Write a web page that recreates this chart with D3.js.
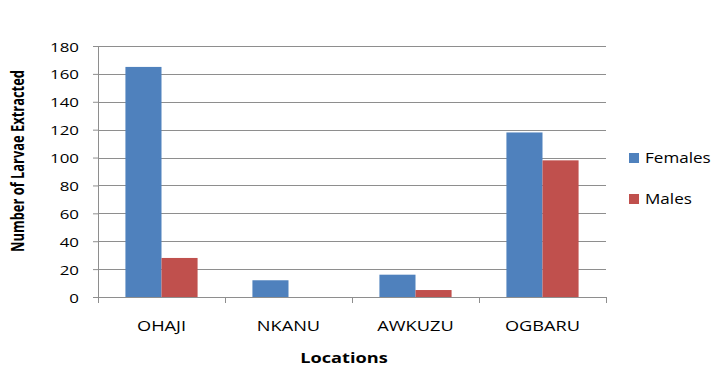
<!DOCTYPE html>
<html>
<head>
<meta charset="utf-8">
<script src="https://cdn.jsdelivr.net/npm/d3@7"></script>
<style>
  body { margin: 0; background: #fff; }
  text { fill: #000; }
</style>
</head>
<body>
<div id="chart"></div>
<script>
// chart data
const locations = ["OHAJI", "NKANU", "AWKUZU", "OGBARU"];
const seriesNames = ["Females", "Males"];
const females = [165, 12, 16, 118];
const males = [28, 0, 5, 98];
const yTicks = [0, 20, 40, 60, 80, 100, 120, 140, 160, 180];

const colors = { Females: "#4F81BD", Males: "#C0504D" };
const gridColor = "#8e8e8e";
const sx = 1.3; // text in the picture is stretched sideways

const W = 725, H = 371;
const margin = { top: 46, right: 119, bottom: 74, left: 98 };
const width = W - margin.left - margin.right;
const height = H - margin.top - margin.bottom;

const rows = locations.map((loc, i) => ({ loc: loc, Females: females[i], Males: males[i] }));

const svg = d3.select("#chart").append("svg")
    .attr("width", W)
    .attr("height", H);

const g = svg.append("g")
    .attr("transform", "translate(" + margin.left + "," + margin.top + ")");

// scales
const x0 = d3.scaleBand().domain(locations).range([0, width]).padding(0);
const x1 = d3.scaleBand().domain(seriesNames).range([0, x0.bandwidth()])
    .paddingInner(0).paddingOuter(0.76);
const y = d3.scaleLinear().domain([0, 180]).range([height, 0]);

// gridlines
g.append("g").selectAll("line")
    .data(yTicks.filter(d => d > 0))
    .join("line")
    .attr("x1", 0).attr("x2", width)
    .attr("y1", d => Math.round(y(d)) + 0.5)
    .attr("y2", d => Math.round(y(d)) + 0.5)
    .attr("stroke", gridColor)
    .attr("stroke-width", 1);

// bars
g.append("g").selectAll("g")
    .data(rows)
    .join("g")
    .attr("transform", d => "translate(" + x0(d.loc) + ",0)")
    .selectAll("rect")
    .data(d => seriesNames.map(s => ({ key: s, value: d[s] })))
    .join("rect")
    .attr("x", d => x1(d.key))
    .attr("y", d => y(d.value))
    .attr("width", x1.bandwidth())
    .attr("height", d => height - y(d.value))
    .attr("fill", d => colors[d.key]);

// left axis
const yAxis = g.append("g")
    .call(d3.axisLeft(y).tickValues(yTicks).tickSize(5).tickFormat(d3.format("d")));
yAxis.select(".domain").attr("stroke", gridColor).attr("d", "M0.5," + (height + 5) + "V0.5");
yAxis.selectAll(".tick line").attr("stroke", gridColor);
yAxis.selectAll(".tick text")
    .attr("x", null).attr("dy", null)
    .attr("text-anchor", "end")
    .attr("transform", "translate(-19,5) scale(" + sx + ",1)")
    .style("font-family", "'Open Sans', sans-serif")
    .style("font-size", "13px")
    .style("fill", "#000");

// bottom axis with ticks at category borders
const xAxis = g.append("g").attr("transform", "translate(0," + height + ")");
xAxis.append("line")
    .attr("x1", 0).attr("x2", width)
    .attr("y1", 0.5).attr("y2", 0.5)
    .attr("stroke", gridColor);
xAxis.selectAll(".xtick")
    .data(locations.map(d => x0(d)).concat([width]))
    .join("line")
    .attr("class", "xtick")
    .attr("x1", d => Math.round(d) + 0.5).attr("x2", d => Math.round(d) + 0.5)
    .attr("y1", 0).attr("y2", 6)
    .attr("stroke", gridColor);
xAxis.selectAll(".xlabel")
    .data(locations)
    .join("text")
    .attr("class", "xlabel")
    .attr("text-anchor", "middle")
    .attr("transform", d => "translate(" + (x0(d) + x0.bandwidth() / 2) + ",34) scale(" + sx + ",1)")
    .style("font-family", "'Open Sans', sans-serif")
    .style("font-size", "14px")
    .text(d => d);

// axis titles
svg.append("text")
    .attr("text-anchor", "middle")
    .attr("transform", "translate(344,363) scale(" + sx + ",1)")
    .style("font-family", "'Open Sans', sans-serif")
    .style("font-size", "14px")
    .style("font-weight", "bold")
    .text("Locations");

svg.append("text")
    .attr("text-anchor", "middle")
    .attr("transform", "translate(24,161) scale(" + sx + ",1) rotate(-90)")
    .style("font-family", "'Open Sans', sans-serif")
    .style("font-size", "13px")
    .style("font-weight", "bold")
    .attr("textLength", 182)
    .attr("lengthAdjust", "spacingAndGlyphs")
    .text("Number of Larvae Extracted");

// legend
const legend = svg.append("g").attr("transform", "translate(629,153)");
const item = legend.selectAll("g")
    .data(seriesNames)
    .join("g")
    .attr("transform", (d, i) => "translate(0," + i * 41 + ")");
item.append("rect")
    .attr("width", 10).attr("height", 10)
    .attr("fill", d => colors[d]);
item.append("text")
    .attr("transform", "translate(16,10) scale(1.22,1)")
    .style("font-family", "'Open Sans', sans-serif")
    .style("font-size", "14px")
    .text(d => d);
</script>
</body>
</html>
